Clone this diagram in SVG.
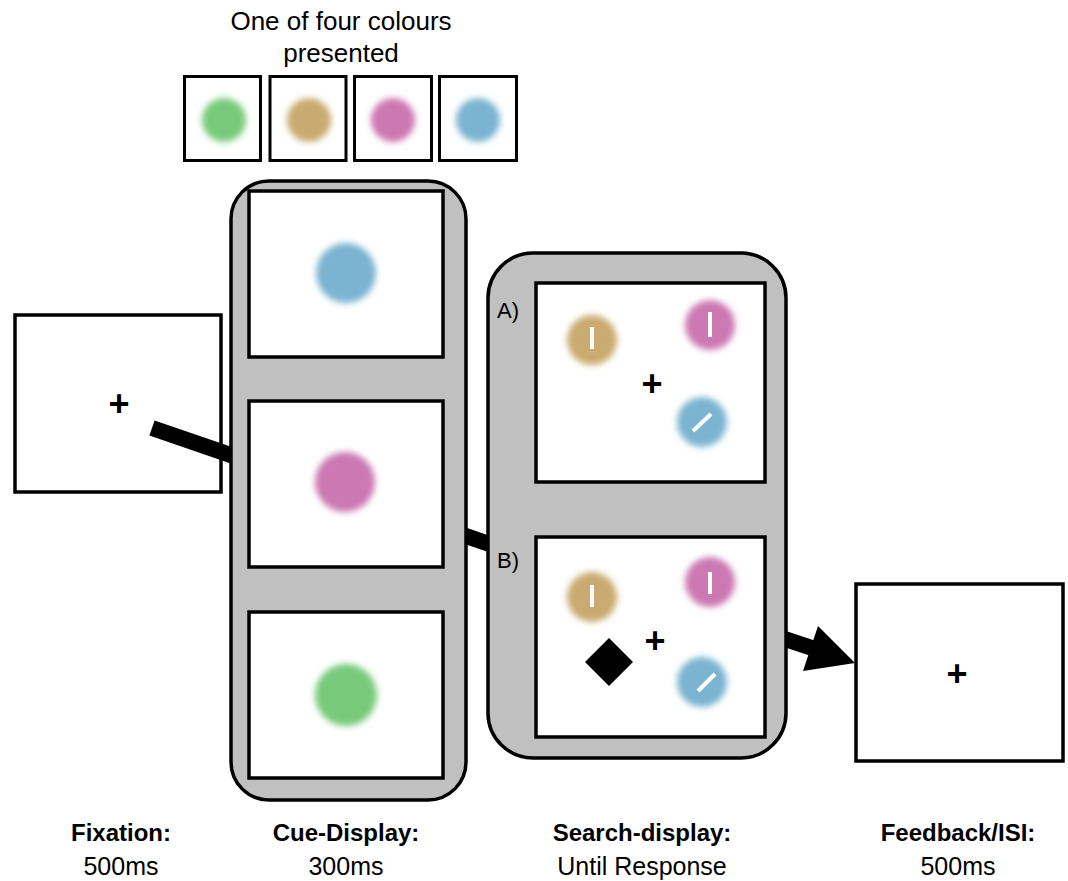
<svg xmlns="http://www.w3.org/2000/svg" width="1068" height="881" viewBox="0 0 1068 881">
<defs>
<filter id="blur" x="-50%" y="-50%" width="200%" height="200%"><feGaussianBlur stdDeviation="3.4"/></filter>
<style>
.box{fill:#fff;stroke:#000;stroke-width:3.5}
.sw{fill:#fff;stroke:#000;stroke-width:3}
.panel{fill:#c0c0c0;stroke:#000;stroke-width:3.5}
.t{font-family:"Liberation Sans",Arial,sans-serif;font-size:24px;fill:#000;text-anchor:middle}
.r{font-size:25px}
.top{font-size:26px}
.b{font-weight:bold}
.plus{font-family:"Liberation Sans",Arial,sans-serif;font-size:36px;font-weight:bold;fill:#000;text-anchor:middle}
.lab{font-family:"Liberation Sans",Arial,sans-serif;font-size:22px;fill:#000}
.g{fill:#78c97a}.tan{fill:#c9aa70}.pk{fill:#cc78b2}.bl{fill:#7ab4d0}
.bar{stroke:#fff;stroke-width:4;stroke-linecap:butt}
.conn{stroke:#000;stroke-width:16;stroke-linecap:butt;fill:none}
</style>
</defs>
<rect width="1068" height="881" fill="#fff"/>

<g id="swatches">
<text class="t top" x="341" y="30">One of four colours</text>
<text class="t top" x="341" y="62">presented</text>
<rect class="sw" x="184.5" y="76.5" width="76" height="84"/>
<rect class="sw" x="270" y="76.5" width="76" height="84"/>
<rect class="sw" x="354.5" y="76.5" width="77" height="84"/>
<rect class="sw" x="439.5" y="76.5" width="77" height="84"/>
<g filter="url(#blur)">
<circle class="g" cx="224" cy="120" r="22"/>
<circle class="tan" cx="309" cy="120" r="22"/>
<circle class="pk" cx="393" cy="120" r="22"/>
<circle class="bl" cx="478" cy="120" r="22"/>
</g>
</g>

<g id="fixation">
<rect class="box" x="15" y="315" width="206" height="177"/>
<text class="plus" x="119" y="416">+</text>
</g>

<g id="connectors">
<line class="conn" x1="152" y1="428" x2="495" y2="546"/>
<line class="conn" x1="770" y1="634" x2="815" y2="649"/>
<polygon points="818,626 855,663 803,671" fill="#000"/>
</g>

<g id="cue-display">
<rect class="panel" x="231" y="181" width="235" height="619" rx="38"/>
<rect class="box" x="249" y="191" width="194" height="166"/>
<rect class="box" x="249" y="401" width="194" height="166"/>
<rect class="box" x="249" y="612" width="194" height="166"/>
<g filter="url(#blur)">
<circle class="bl" cx="346" cy="273" r="30"/>
<circle class="pk" cx="345" cy="482" r="30"/>
<circle class="g" cx="346" cy="695" r="31"/>
</g>
</g>

<g id="search-display">
<rect class="panel" x="488" y="253" width="298" height="505" rx="45"/>
<rect class="box" x="536" y="283" width="229" height="199"/>
<rect class="box" x="536" y="537" width="229" height="200"/>
<text class="lab" x="497" y="318">A)</text>
<text class="lab" x="497" y="568">B)</text>
<g filter="url(#blur)">
<circle class="tan" cx="592" cy="340" r="25"/>
<circle class="pk" cx="710" cy="325" r="25"/>
<circle class="bl" cx="702" cy="422" r="25"/>
<circle class="tan" cx="592" cy="597" r="25"/>
<circle class="pk" cx="710" cy="582" r="25"/>
<circle class="bl" cx="702" cy="682" r="25"/>
</g>
<line class="bar" x1="592" y1="327" x2="592" y2="349"/>
<line class="bar" x1="710" y1="312" x2="710" y2="337"/>
<line class="bar" x1="693" y1="431" x2="711" y2="414"/>
<line class="bar" x1="592" y1="585" x2="592" y2="607"/>
<line class="bar" x1="710" y1="572" x2="710" y2="594"/>
<line class="bar" x1="698" y1="691" x2="715" y2="674"/>
<text class="plus" x="652" y="396">+</text>
<text class="plus" x="655" y="653">+</text>
<polygon points="609,638 633,662 609,686 585,662" fill="#000"/>
</g>

<g id="feedback">
<rect class="box" x="856" y="584" width="207" height="177"/>
<text class="plus" x="957" y="686">+</text>
</g>

<g id="labels">
<text class="t b" x="121" y="841">Fixation:</text>
<text class="t r" x="121" y="875">500ms</text>
<text class="t b" x="346" y="841">Cue-Display:</text>
<text class="t r" x="346" y="875">300ms</text>
<text class="t b" x="642" y="841">Search-display:</text>
<text class="t r" x="642" y="875">Until Response</text>
<text class="t b" x="958" y="841">Feedback/ISI:</text>
<text class="t r" x="958" y="875">500ms</text>
</g>
</svg>
